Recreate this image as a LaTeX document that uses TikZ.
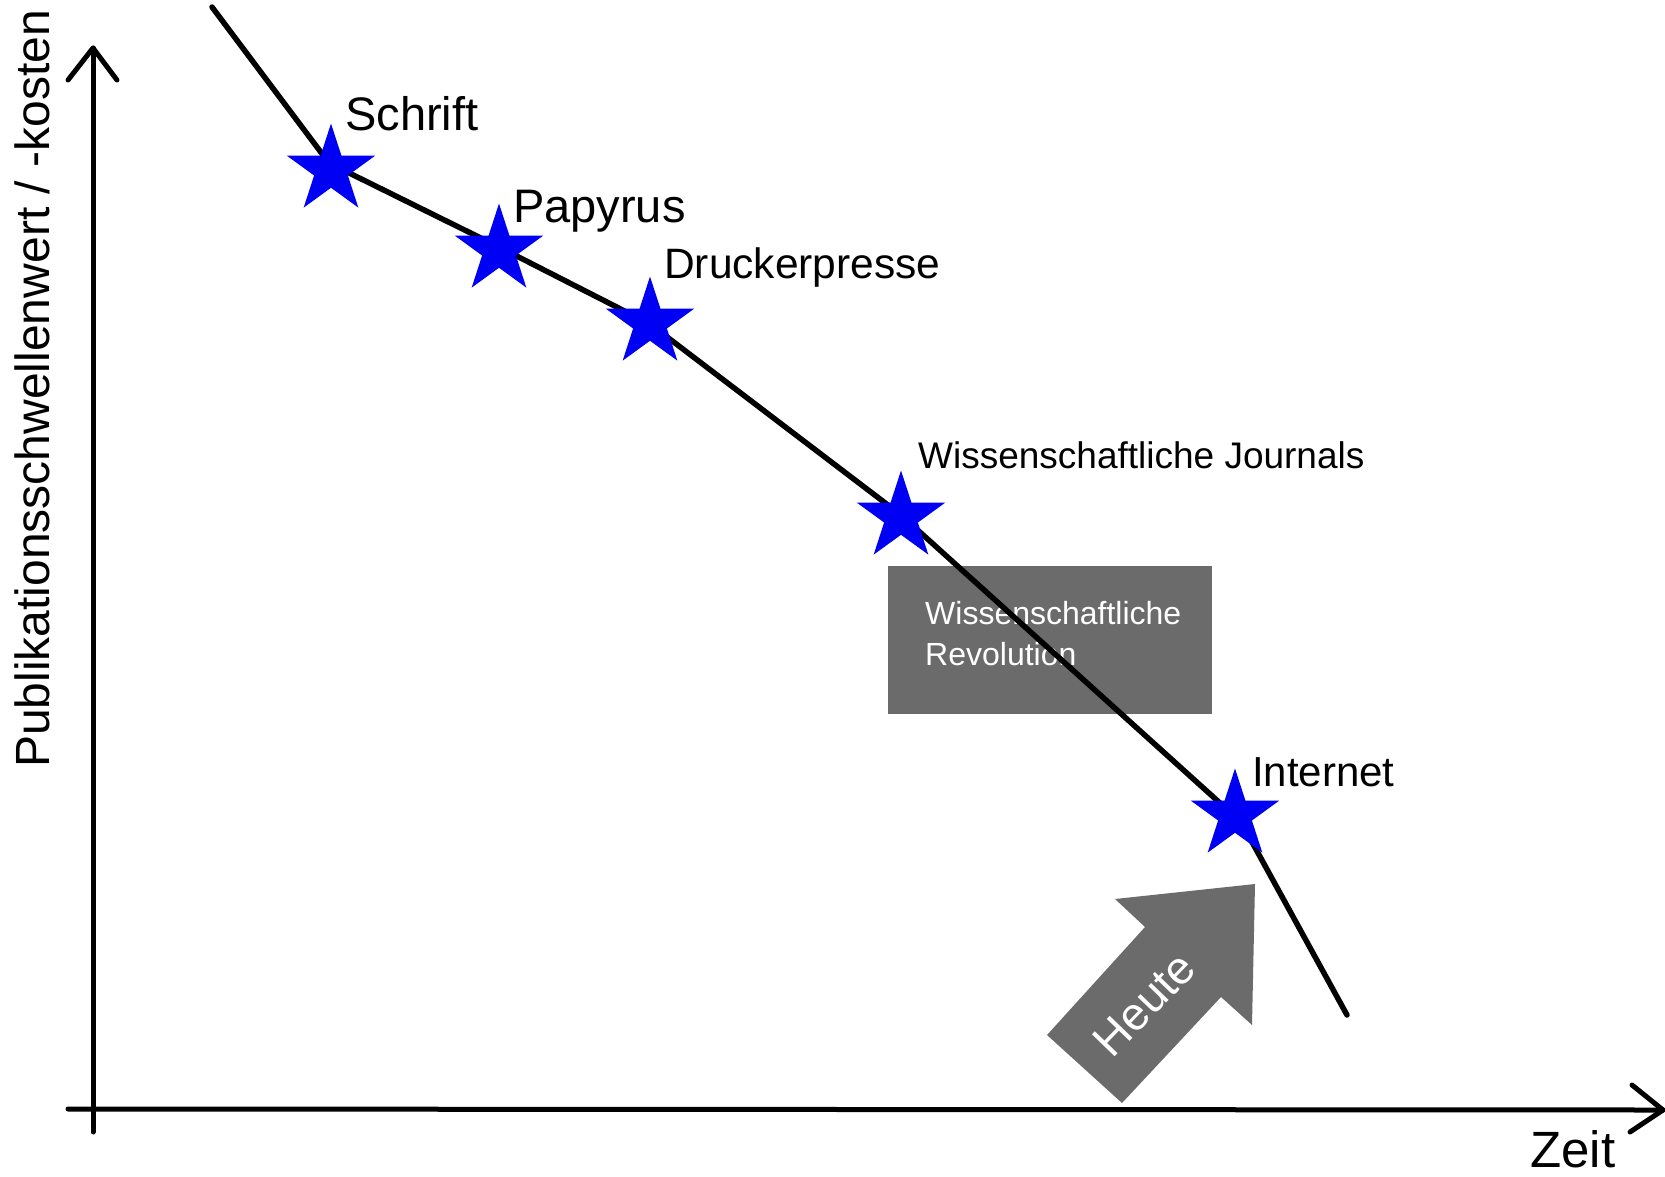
\documentclass[tikz,border=0pt]{standalone}
\usepackage{fontspec}
\setmainfont{Liberation Sans}
\usetikzlibrary{shapes.geometric}
\definecolor{patgray}{gray}{0.42}
\definecolor{starblue}{RGB}{0,0,245}
\tikzset{
  sketch/.style={draw=black, line width=5pt, line cap=round, line join=round},
  milestone/.style={star, star points=5, star point ratio=2.618, minimum size=93pt,
    inner sep=0pt, fill=starblue, draw=none},
  lbl/.style={anchor=base west, inner sep=0pt, text=black},
}
\newcommand{\fs}[1]{\fontsize{#1}{#1}\selectfont}
\begin{document}
\begin{tikzpicture}[x=1pt, y=-1pt]
\useasboundingbox (0,0) rectangle (1665,1176);

% axes
\coordinate (ybot) at (93,1132);
\coordinate (ytop) at (93,48);
\coordinate (xbeg) at (68,1109);
\coordinate (xend) at (1663,1110);
\draw[sketch] (ybot) -- (ytop);
\draw[sketch] (ytop) ++(-25,32) -- (ytop) -- ++(24,32);
\draw[sketch] (xbeg) -- (xend);
\draw[sketch] (xend) ++(-31,-25) -- (xend) -- ++(-33,22);

\node[lbl, font=\fs{51}] (zeit) at (1530,1167) {Zeit};
\node[lbl, font=\fs{48}, rotate=90] (ylab) at (49,768) {Publikationsschwellenwert / -kosten};

% box: scientific revolution (behind the curve)
\node[fill=patgray, minimum width=324pt, minimum height=148pt, inner sep=0pt, anchor=north west] (rev) at (888,566) {};
\node[anchor=base west, inner sep=0pt, text=white, font=\fontsize{32}{41}\selectfont, align=left] (revtxt) at (925,665) {Wissenschaftliche\\Revolution};

% "Heute" arrow
\coordinate (h1) at (1255,884);
\coordinate (h2) at (1115,899);
\coordinate (h3) at (1145,927);
\coordinate (h4) at (1047,1035);
\coordinate (h5) at (1122,1103);
\coordinate (h6) at (1221,997);
\coordinate (h7) at (1252,1025);
\fill[patgray] (h1) -- (h2) -- (h3) -- (h4) -- (h5) -- (h6) -- (h7) -- cycle;
\node[text=white, font=\fs{46}, rotate=46, inner sep=0pt] (heute) at (1144,1004) {Heute};

% cost curve
\coordinate (c0) at (212,7);
\coordinate (c1) at (329,163);
\coordinate (c2) at (499,247);
\coordinate (c3) at (650,324);
\coordinate (c4) at (901,515);
\coordinate (c5) at (1241,822);
\coordinate (c6) at (1347,1015);
\draw[sketch, line width=5.5pt] (c0) -- (c1) -- (c2) -- (c3) -- (c4) -- (c5) -- (c6);

% milestones
\node[milestone] (s1) at (331,170) {};
\node[milestone] (s2) at (499,250) {};
\node[milestone] (s3) at (650,323) {};
\node[milestone] (s4) at (901,517) {};
\node[milestone] (s5) at (1235,815) {};

\node[lbl, font=\fs{47}] (l1) at (345,130) {Schrift};
\node[lbl, font=\fs{47}] (l2) at (513,222) {Papyrus};
\node[lbl, font=\fs{42.5}] (l3) at (664,278) {Druckerpresse};
\node[lbl, font=\fs{37}] (l4) at (918,468) {Wissenschaftliche Journals};
\node[lbl, font=\fs{42}] (l5) at (1252,786) {Internet};
\end{tikzpicture}
\end{document}
